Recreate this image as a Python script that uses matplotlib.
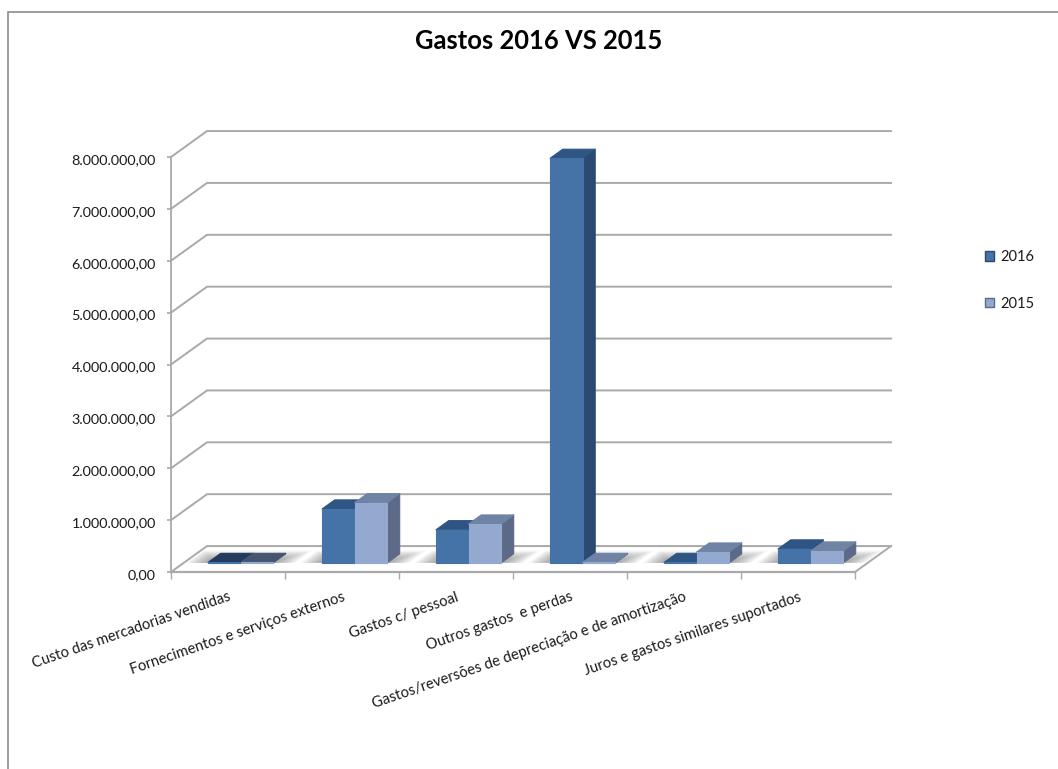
import matplotlib
matplotlib.use("Agg")
import matplotlib.pyplot as plt
import numpy as np
from matplotlib.patches import Patch, Polygon, Rectangle
from matplotlib.ticker import FuncFormatter
from matplotlib.transforms import ScaledTranslation

plt.rcParams['font.family'] = ['Lato', 'DejaVu Sans']

categorias = [
    "Custo das mercadorias vendidas",
    "Fornecimentos e serviços externos",
    "Gastos c/ pessoal",
    "Outros gastos  e perdas",
    "Gastos/reversões de depreciação e de amortização",
    "Juros e gastos similares suportados",
]
gastos_2016 = [10000, 1040000, 640000, 7800000, 10000, 270000]
gastos_2015 = [10000, 1160000, 750000, 10000, 210000, 230000]
y_ticks = [0, 1000000, 2000000, 3000000, 4000000, 5000000, 6000000, 7000000, 8000000]

W, H = 1058, 769
# deslocamento da "profundidade" 3D, em unidades dos eixos
DX = 36 / 114
DY = 500000
BAR_W = 0.285
D0, D1 = 0.35, 0.7
GRID = "#a9a9a9"

# cor frente, topo, lado
cores_2016 = ("#4572a7", "#2f5585", "#2c4a70")
cores_2015 = ("#94a9d0", "#6f83a5", "#5c6a88")


def proj(x, v, d):
    return x + d * DX, v + d * DY


def poly(ax, pts, cor, z, alpha=1.0, lw=0.8):
    ax.add_patch(Polygon(pts, closed=True, facecolor=cor, edgecolor=cor if lw else "none",
                         lw=lw, alpha=alpha, zorder=z, clip_on=False, joinstyle="round"))


def barra(ax, x, v, cores, z, cor_topo=None):
    frente, topo, lado = cores
    if cor_topo:
        topo = cor_topo
    x2 = x + BAR_W
    poly(ax, [proj(x2, 0, D0), proj(x2, v, D0), proj(x2, v, D1), proj(x2, 0, D1)], lado, z)
    poly(ax, [proj(x, v, D0), proj(x2, v, D0), proj(x2, v, D1), proj(x, v, D1)], topo, z)
    poly(ax, [proj(x, 0, D0), proj(x2, 0, D0), proj(x2, v, D0), proj(x, v, D0)], frente, z)


fig = plt.figure(figsize=(W / 100, H / 100), dpi=100)
fig.patches.append(Rectangle((8 / W, -0.05), 1.2, 1 - 11.5 / H + 0.05, transform=fig.transFigure,
                             facecolor="white", edgecolor="#8c8c8c", lw=1.2, zorder=-1))

ax = fig.add_axes([171 / W, 1 - 572 / H, (855 - 171) / W, (572 - 157) / H])
ax.patch.set_alpha(0)
ax.set_xlim(0, 6)
ax.set_ylim(0, 8000000)

ax.spines["top"].set_visible(False)
ax.spines["right"].set_visible(False)
ax.spines["left"].set_color(GRID)
ax.spines["bottom"].set_color(GRID)
ax.spines["left"].set_linewidth(1.3)
ax.spines["bottom"].set_linewidth(1.6)

ax.set_yticks(y_ticks)
ax.yaxis.set_major_formatter(FuncFormatter(lambda v, _: f"{v:,.2f}".replace(",", "#").replace(".", ",").replace("#", ".")))
ax.tick_params(axis="y", length=3, width=1.2, color=GRID, labelsize=10.4, labelcolor="#1a1a1a", pad=8)
desce = ScaledTranslation(0, -2 / 100, fig.dpi_scale_trans)
for t in ax.get_yticklabels():
    t.set_transform(t.get_transform() + desce)
ax.set_xticks(range(7))
ax.set_xticklabels([])
ax.tick_params(axis="x", length=5, width=1, color=GRID)

# paredes e chao
for v in y_ticks:
    xs, ys = zip(proj(0, v, 0), proj(0, v, 1), proj(6, v, 1))
    ax.plot(xs, ys, color=GRID, lw=1.4, zorder=1, clip_on=False)
xs, ys = zip(proj(6, 0, 1), proj(6, 0, 0))
ax.plot(xs, ys, color=GRID, lw=1.4, zorder=1, clip_on=False)

# sombra no chao
for i in range(6):
    x0 = i + 0.5 - BAR_W
    x1 = i + 0.5 + BAR_W
    for k in np.linspace(0, 1, 12):
        ext = 0.19 - 0.17 * k
        d_top = D1 + 0.12 - 0.34 * k
        poly(ax, [proj(x0 - ext, 0, D0), proj(x1 + ext, 0, D0),
                  proj(x1 + ext, 0, d_top), proj(x0 - ext, 0, d_top)], "#555555", 2, alpha=0.05, lw=0)

for i in range(6):
    x = i + 0.5 - BAR_W
    topo_a = "#233a5c" if i == 0 else None
    topo_b = "#465670" if i == 0 else None
    barra(ax, x, gastos_2016[i], cores_2016, 3, topo_a)
    barra(ax, x + BAR_W, gastos_2015[i], cores_2015, 4, topo_b)

# rotulos inclinados
for i, c in enumerate(categorias):
    ax.annotate(c, xy=(i + 0.5, 0), xycoords=("data", "axes fraction"), xytext=(0, -13),
                textcoords="offset points", rotation=19, rotation_mode="anchor",
                ha="right", va="top", fontsize=10.65, color="#1a1a1a", annotation_clip=False)

fig.text(539 / W, 1 - 41 / H, "Gastos 2016 VS 2015", fontsize=18.4, fontweight="bold",
         ha="center", va="center", color="black")

handles = [Patch(facecolor=cores_2016[0], edgecolor=cores_2016[2], label="2016"),
           Patch(facecolor=cores_2015[0], edgecolor=cores_2015[2], label="2015")]
fig.legend(handles=handles, loc="upper left", bbox_to_anchor=(972 / W, 1 - 237 / H), frameon=False,
           fontsize=10.5, handlelength=0.6, handleheight=0.6, handletextpad=0.45, labelspacing=2.25,
           labelcolor="#1a1a1a")

fig.savefig("out.png", dpi=100)
